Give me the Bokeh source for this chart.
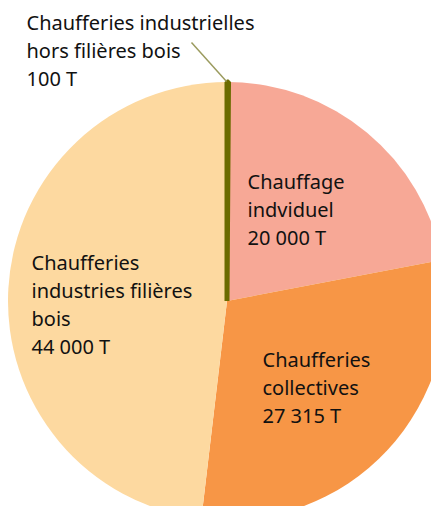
import math
from bokeh.plotting import figure
from bokeh.models import Range1d, ColumnDataSource
from bokeh.core.properties import value
from bokeh.embed import file_html
from bokeh.resources import INLINE

# Data
categories = ["Chaufferies industrielles hors filières bois", "Chauffage individuel",
              "Chaufferies collectives", "Chaufferies industries filières bois"]
tonnes = [100, 20000, 27315, 44000]
colors = ["#6B6B00", "#F7A896", "#F79646", "#FDD9A0"]
label_lines = [
    ["Chaufferies industrielles", "hors filières bois", "100 T"],
    ["Chauffage", "indviduel", "20 000 T"],
    ["Chaufferies", "collectives", "27 315 T"],
    ["Chaufferies", "industries filières", "bois", "44 000 T"],
]
# label anchor (px: left, first line middle)
label_pos = [(26, 22), (247, 181), (262, 359), (31, 262)]
line_step = 28

W, H = 431, 506
p = figure(width=W, height=H, output_backend="svg", toolbar_location=None,
           x_range=Range1d(0, W), y_range=Range1d(-H, 0),
           min_border=0)
p.axis.visible = False
p.grid.visible = False
p.outline_line_color = None
p.background_fill_color = "white"

cx, cy, r = 226.5, -300.5, 219
total = sum(tonnes)
starts, ends = [], []
cum = 0
for t in tonnes:
    starts.append(math.pi / 2 - cum / total * 2 * math.pi)
    cum += t
    ends.append(math.pi / 2 - cum / total * 2 * math.pi)

src = ColumnDataSource(dict(start=starts[1:], end=ends[1:], color=colors[1:]))
p.wedge(x=cx, y=cy, radius=r, start_angle="start", end_angle="end",
        direction="clock", fill_color="color", line_color=None, source=src)

# thin slice drawn on top with thick outline
p.wedge(x=cx, y=cy, radius=r, start_angle=starts[0], end_angle=ends[0],
        direction="clock", fill_color=colors[0], line_color=colors[0], line_width=5)

# leader line for the small slice
p.line(x=[191, 226], y=[-42, -81], line_color="#9B9B5F", line_width=1.5)

for lines, (lx, ly) in zip(label_lines, label_pos):
    ys = [-(ly + i * line_step) for i in range(len(lines))]
    p.text(x=[lx] * len(lines), y=ys, text=lines, text_font=value("Noto Sans"),
           text_font_size="20px", text_color="#111111", text_align="left",
           text_baseline="middle")

open("out.html", "w").write(file_html(p, INLINE))
